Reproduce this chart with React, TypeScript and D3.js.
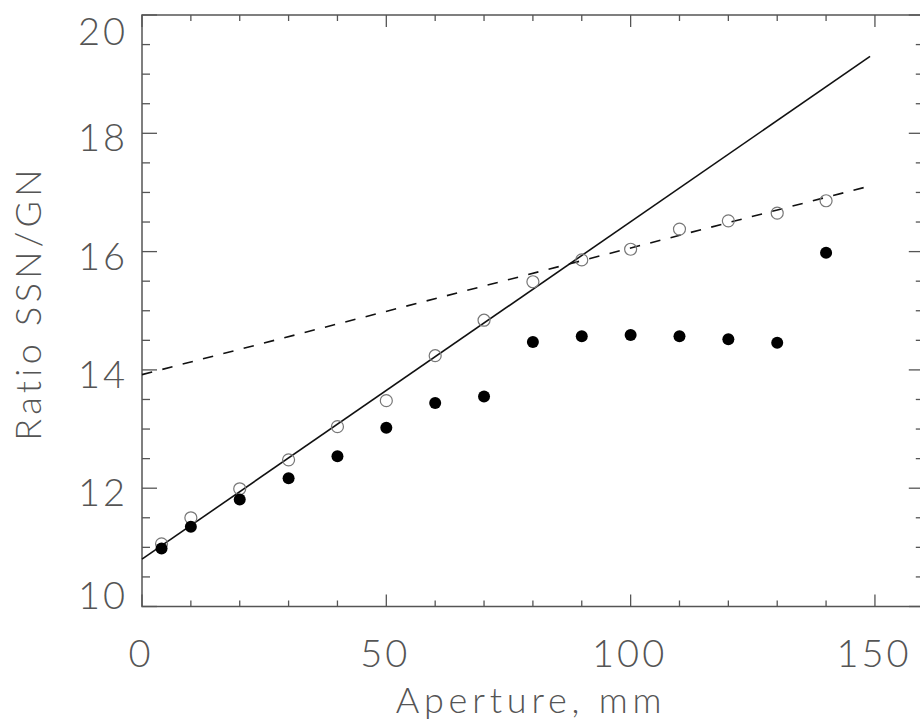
import React from "react";
import * as d3 from "d3";

const apertures = [4, 10, 20, 30, 40, 50, 60, 70, 80, 90, 100, 110, 120, 130, 140];
const openRatio = [11.06, 11.5, 11.99, 12.48, 13.04, 13.48, 14.24, 14.84, 15.49, 15.86, 16.04, 16.38, 16.52, 16.65, 16.86];
const filledRatio = [10.98, 11.35, 11.81, 12.17, 12.54, 13.02, 13.44, 13.55, 14.47, 14.57, 14.59, 14.57, 14.52, 14.46, 15.98];
const solidFit = [
  [0, 10.8],
  [149, 19.3],
];
const dashedFit = [
  [0, 13.92],
  [149, 17.11],
];
const xMajorTicks = [0, 50, 100, 150];
const yMajorTicks = [10, 12, 14, 16, 18, 20];

const W = 920;
const H = 724;
const left = 142;
const right = 923.8;
const top = 15;
const bottom = 606.5;

const FONT = "Lato, 'Open Sans', sans-serif";
const TXT = "#555";
const AX = "#555";

export default function App() {
  const x = d3.scaleLinear().domain([0, 160]).range([left, right]);
  const y = d3.scaleLinear().domain([10, 20]).range([bottom, top]);
  const line = d3
    .line<number[]>()
    .x((d) => x(d[0]))
    .y((d) => y(d[1]));
  const xMinor = d3.range(0, 161, 10).filter((v) => v % 50 !== 0);
  const yMinor = d3.range(10, 20.01, 0.5).filter((v) => Math.abs(v / 2 - Math.round(v / 2)) > 0.01);

  const yLabelY = (v: number) => {
    if (v === 20) return y(v) + 15;
    if (v === 10) return y(v) - 13;
    return y(v) + 3;
  };

  return (
    <svg
      width={W}
      height={H}
      style={{ position: "absolute", left: 0, top: 0, display: "block" }}
      fontFamily={FONT}
    >
      <rect width={W} height={H} fill="#fff" />
      {/* frame */}
      <rect x={left} y={top} width={right - left} height={bottom - top} fill="none" stroke={AX} strokeWidth={1.5} />
      {/* x ticks */}
      {xMajorTicks.map((v) => (
        <g key={"xm" + v}>
          <line x1={x(v)} x2={x(v)} y1={bottom} y2={bottom - 12} stroke={AX} strokeWidth={1.3} />
          <line x1={x(v)} x2={x(v)} y1={top} y2={top + 12} stroke={AX} strokeWidth={1.3} />
          <text
            x={x(v) - 1}
            y={652}
            textAnchor="middle"
            dominantBaseline="central"
            fontSize={38}
            fontWeight={300}
            fill={TXT}
            letterSpacing={3}
          >
            {v}
          </text>
        </g>
      ))}
      {xMinor.map((v) => (
        <g key={"xn" + v}>
          <line x1={x(v)} x2={x(v)} y1={bottom} y2={bottom - 6} stroke={AX} strokeWidth={1.3} />
          <line x1={x(v)} x2={x(v)} y1={top} y2={top + 6} stroke={AX} strokeWidth={1.3} />
        </g>
      ))}
      {/* y ticks */}
      {yMajorTicks.map((v) => (
        <g key={"ym" + v}>
          <line x1={left} x2={left + 15} y1={y(v)} y2={y(v)} stroke={AX} strokeWidth={1.3} />
          <line x1={right} x2={right - 15} y1={y(v)} y2={y(v)} stroke={AX} strokeWidth={1.3} />
          <text
            x={128}
            y={yLabelY(v)}
            textAnchor="end"
            dominantBaseline="central"
            fontSize={38}
            fontWeight={300}
            fill={TXT}
            letterSpacing={3}
          >
            {v}
          </text>
        </g>
      ))}
      {yMinor.map((v) => (
        <g key={"yn" + v}>
          <line x1={left} x2={left + 8} y1={y(v)} y2={y(v)} stroke={AX} strokeWidth={1.3} />
          <line x1={right} x2={right - 8} y1={y(v)} y2={y(v)} stroke={AX} strokeWidth={1.3} />
        </g>
      ))}
      {/* axis titles */}
      <text
        x={531}
        y={713}
        textAnchor="middle"
        fontSize={36}
        fontWeight={300}
        fill={TXT}
        letterSpacing={4.8}
      >
        Aperture, mm
      </text>
      <text
        transform={`translate(41,${303}) rotate(-90)`}
        textAnchor="middle"
        fontSize={36}
        fontWeight={300}
        fill={TXT}
        letterSpacing={4.3}
      >
        Ratio SSN/GN
      </text>
      {/* fit lines */}
      <path d={line(solidFit) || ""} fill="none" stroke="#111" strokeWidth={1.6} />
      <path d={line(dashedFit) || ""} fill="none" stroke="#111" strokeWidth={1.6} strokeDasharray="10.5,10.5" />
      {/* points */}
      {apertures.map((a, i) => (
        <circle key={"o" + a} cx={x(a)} cy={y(openRatio[i])} r={6} fill="none" stroke="#777" strokeWidth={1.2} />
      ))}
      {apertures.map((a, i) => (
        <circle key={"f" + a} cx={x(a)} cy={y(filledRatio[i])} r={6} fill="#000" />
      ))}
    </svg>
  );
}
